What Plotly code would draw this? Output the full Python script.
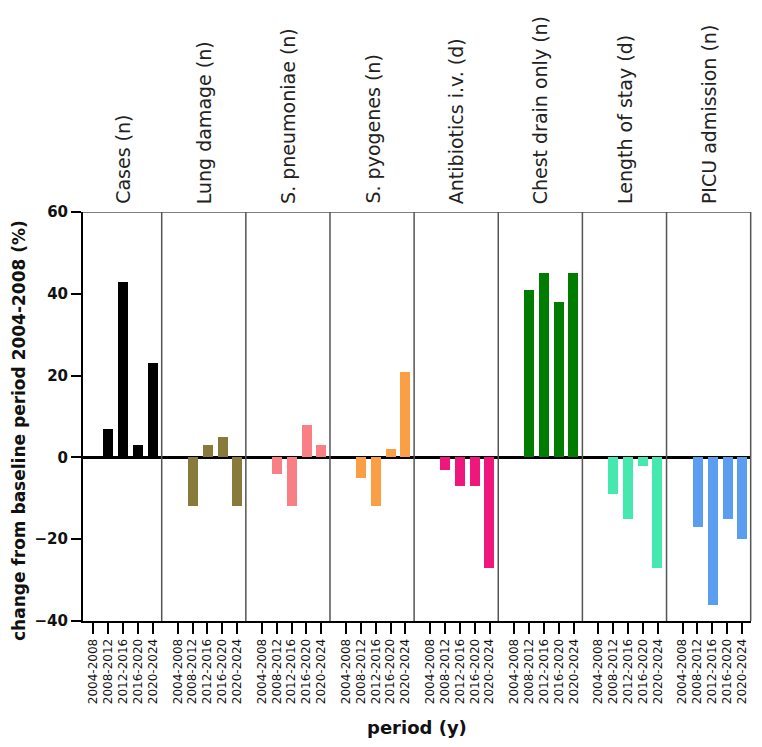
import plotly.graph_objects as go
from plotly.subplots import make_subplots

periods = ["2004-2008", "2008-2012", "2012-2016", "2016-2020", "2020-2024"]
outcomes = ["Cases (n)", "Lung damage (n)", "S. pneumoniae (n)", "S. pyogenes (n)",
            "Antibiotics i.v. (d)", "Chest drain only (n)", "Length of stay (d)",
            "PICU admission (n)"]

cases = [0, 7, 43, 3, 23]
lung_damage = [0, -12, 3, 5, -12]
s_pneumoniae = [0, -4, -12, 8, 3]
s_pyogenes = [0, -5, -12, 2, 21]
antibiotics_iv = [0, -3, -7, -7, -27]
chest_drain_only = [0, 41, 45, 38, 45]
length_of_stay = [0, -9, -15, -2, -27]
picu_admission = [0, -17, -36, -15, -20]

series = [cases, lung_damage, s_pneumoniae, s_pyogenes, antibiotics_iv,
          chest_drain_only, length_of_stay, picu_admission]
colors = ["#000000", "#877a3b", "#f97f84", "#fb9f45", "#ef177c",
          "#007d00", "#45e8ae", "#5b9ef0"]

y_ticks = [-40, -20, 0, 20, 40, 60]

W, H = 762, 747
L, R, T, B = 83, 11, 212, 126
pw = W - L - R

# panel boundaries in px
bounds = [83, 161.7] + [161.7 + 84.14 * k for k in range(1, 8)]
dom = [((bounds[i] - L) / pw, min(1.0, (bounds[i + 1] - L) / pw)) for i in range(8)]

fig = make_subplots(rows=1, cols=8, shared_yaxes=True, horizontal_spacing=0)

for i, (vals, col) in enumerate(zip(series, colors)):
    fig.add_trace(go.Bar(x=periods, y=vals, marker=dict(color=col, line=dict(width=0)),
                         width=0.67, showlegend=False), row=1, col=i + 1)

font = "DejaVu Sans"
for i in range(8):
    ax = "xaxis" if i == 0 else f"xaxis{i+1}"
    rng = [-0.69, 4.61] if i == 0 else [-1.08, 4.59]
    fig.layout[ax].update(
        domain=list(dom[i]), type="category", categoryorder="array", categoryarray=periods,
        range=rng, showgrid=False, zeroline=False,
        tickmode="array", tickvals=periods, ticktext=periods,
        showline=True, linecolor="black", linewidth=2,
        ticks="outside", ticklen=11, tickwidth=2, tickcolor="black",
        tickangle=-90, tickfont=dict(family=font, size=12, color="#111"),
    )
    yax = "yaxis" if i == 0 else f"yaxis{i+1}"
    fig.layout[yax].update(
        range=[-40, 60], showgrid=False, zeroline=True, zerolinecolor="black",
        zerolinewidth=2.5,
    )

fig.layout.yaxis.update(
    tickvals=y_ticks, showline=True, linecolor="black", linewidth=2,
    ticks="outside", ticklen=10, tickwidth=2, tickcolor="black",
    tickfont=dict(family=font, size=15, color="#111", weight="bold"),
)

shapes = []
# top border
shapes.append(dict(type="line", xref="paper", yref="y", x0=0, x1=1, y0=60, y1=60,
                   line=dict(color="#555", width=1.5)))
# vertical dividers
for i in range(1, 9):
    xp = (bounds[i] - L) / pw
    shapes.append(dict(type="line", xref="paper", yref="y", x0=xp, x1=xp, y0=-40, y1=60,
                       line=dict(color="#555", width=1.5)))
fig.update_layout(shapes=shapes)

annotations = []
for i, name in enumerate(outcomes):
    xc = ((dom[i][0] + dom[i][1]) / 2)
    annotations.append(dict(text=name, xref="paper", yref="paper", x=xc, y=1,
                            yshift=6, xanchor="center", yanchor="bottom",
                            textangle=-90, showarrow=False,
                            font=dict(family=font, size=19, color="#222")))
annotations.append(dict(text="<b>period (y)</b>", xref="paper", yref="paper",
                        x=0.5, y=(621 - 727) / 409, xanchor="center", yanchor="middle",
                        showarrow=False, font=dict(family=font, size=18, color="#111")))
annotations.append(dict(text="<b>change from baseline period 2004-2008 (%)</b>",
                        xref="paper", yref="paper", x=(19 - L) / pw, y=(621 - 431) / 409,
                        xanchor="center", yanchor="middle", textangle=-90,
                        showarrow=False, font=dict(family=font, size=17, color="#111")))
fig.update_layout(annotations=annotations)

fig.update_layout(
    width=W, height=H, margin=dict(l=L, r=R, t=T, b=B),
    plot_bgcolor="white", paper_bgcolor="white", bargap=0,
)

fig.write_html("out.html")
